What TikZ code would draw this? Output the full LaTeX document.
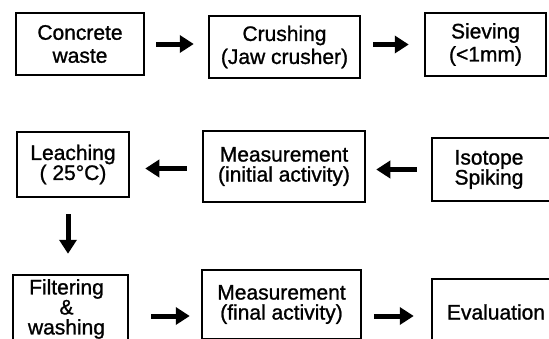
\documentclass[tikz,border=0pt]{standalone}
\usepackage{fontspec}
\setmainfont{Liberation Sans}[BoldFont=Liberation Sans, BoldFeatures={FakeBold=1.1}]
\usetikzlibrary{arrows.meta}
\begin{document}
\begin{tikzpicture}[x=1pt,y=-1pt,
  box/.style={draw, line width=2.5pt, align=center, inner sep=0pt,
    font=\fontsize{21}{20}\selectfont\bfseries},
  rowone/.style={font=\fontsize{21}{23}\selectfont\bfseries},
  flow/.style={line width=5pt, -{Triangle[length=14pt,width=17pt]}}]
\useasboundingbox (0,0) rectangle (549,338);
\clip (0,0) rectangle (549,338);
% row 1
\node[box,rowone,minimum width=128pt,minimum height=62pt] (cw) at (80,44) {Concrete\\waste};
\node[box,rowone,minimum width=151pt,minimum height=62pt] (cr) at (284.5,47) {Crushing\\(Jaw crusher)};
\node[box,rowone,minimum width=121pt,minimum height=63pt] (sv) at (485.5,44.5) {Sieving\\(<1mm)};
% row 2
\node[box,minimum width=112pt,minimum height=65pt] (le) at (73,164.5) {Leaching\\( 25°C)};
\node[box,minimum width=162pt,minimum height=71pt] (mi) at (284,166.5) {Measurement\\(initial activity)};
\node[box,minimum width=128pt,minimum height=63pt] (is) at (496,169.5) {\hspace*{-14pt}Isotope\\\hspace*{-14pt}Spiking};
% row 3
\node[box,minimum width=115pt,minimum height=68pt] (fw) at (70.5,309) {\hspace*{-8pt}Filtering\\\hspace*{-8pt}\&\\\hspace*{-8pt}washing};
\node[box,minimum width=159pt,minimum height=69pt] (mf) at (281.5,304.5) {Measurement\\(final activity)};
\node[box,minimum width=128pt,minimum height=66pt] (ev) at (496,312) {Evaluation};
% connectors
\draw[flow] ([xshift=11pt]cw.east) -- ([xshift=-14pt]cr.west |- cw.east);
\draw[flow] ([xshift=12pt]cr.east |- sv.west) -- ([xshift=-15pt]sv.west);
\draw[flow] ([xshift=-14pt]is.west) -- ([xshift=10pt]mi.east |- is.west);
\draw[flow] ([xshift=-15pt,yshift=-2pt]mi.west) -- ([xshift=15pt,yshift=-2pt]le.east |- mi.west);
\draw[flow] ([xshift=-5pt,yshift=-16pt]le.south) -- ([xshift=-5pt,yshift=20pt]le.south |- fw.north);
\draw[flow] ([xshift=22pt,yshift=-7pt]fw.east) -- ([xshift=-11pt,yshift=-7pt]mf.west |- fw.east);
\draw[flow] ([xshift=12pt,yshift=-4pt]mf.east |- ev.west) -- ([xshift=-17pt,yshift=-4pt]ev.west);
\end{tikzpicture}
\end{document}
